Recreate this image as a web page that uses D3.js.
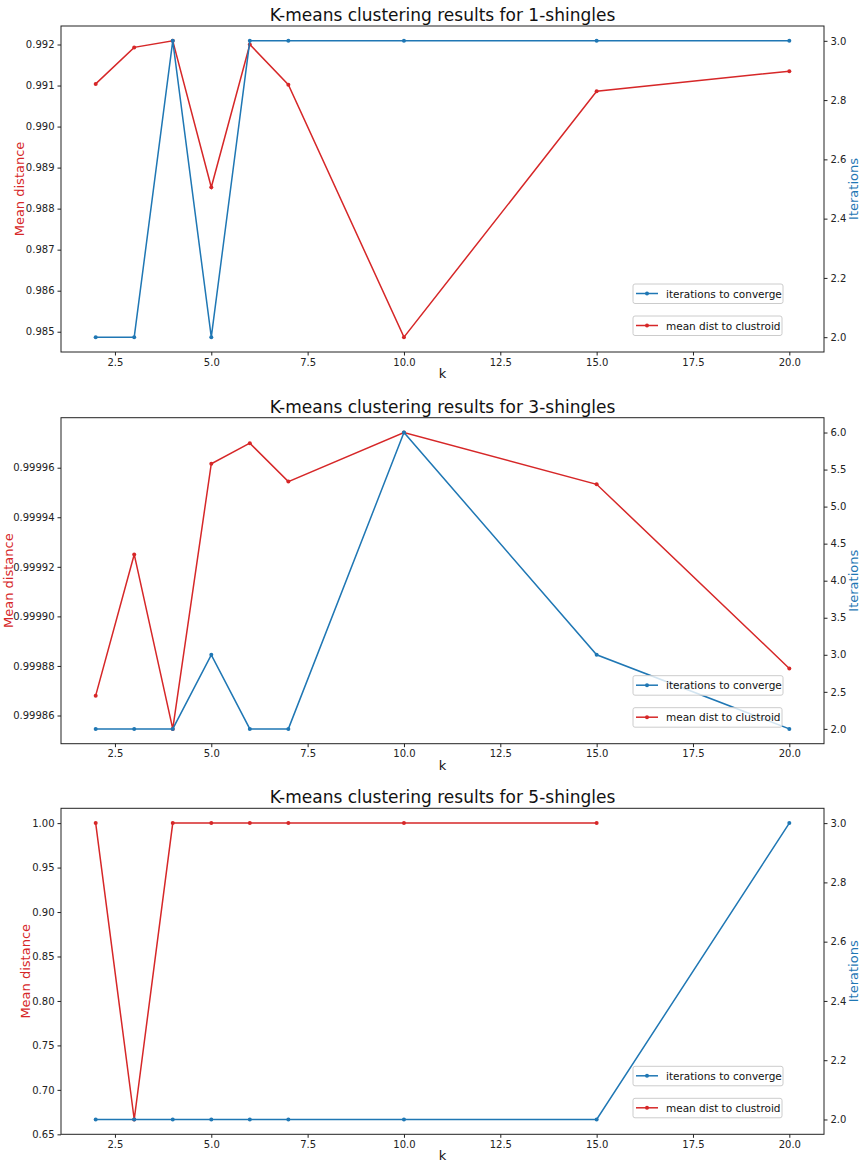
<!DOCTYPE html>
<html>
<head>
<meta charset="utf-8">
<script src="https://cdn.jsdelivr.net/npm/d3@7"></script>
<style>
  body { margin: 0; background: #fff; }
  svg text { font-family: "DejaVu Sans", sans-serif; }
</style>
</head>
<body>
<div id="zone"></div>
<script>
(function() {
  "use strict";

  // valeurs de k (axe x commun)
  var kValues = [2, 3, 4, 5, 6, 7, 10, 15, 20];

  // titres des trois graphiques
  var shingleTitles = ["K-means clustering results for 1-shingles",
                       "K-means clustering results for 3-shingles",
                       "K-means clustering results for 5-shingles"];

  // distance moyenne au clustroid (axe gauche)
  var meanDist1 = [0.99104, 0.99193, 0.99209, 0.98852, 0.99200, 0.99102, 0.984867, 0.99086, 0.99135];
  var meanDist3 = [0.999868, 0.999925, 0.9998546, 0.9999616, 0.9999699, 0.9999544, 0.9999742, 0.9999533, 0.999879];
  var meanDist5 = [1.0, 0.6667, 1.0, 1.0, 1.0, 1.0, 1.0, 1.0, null];

  // itérations pour converger (axe droit)
  var iter1 = [2, 2, 3, 2, 3, 3, 3, 3, 3];
  var iter3 = [2, 2, 2, 3, 2, 2, 6, 3, 2];
  var iter5 = [2, 2, 2, 2, 2, 2, 2, 2, 3];

  // graduations
  var xTicks = [2.5, 5.0, 7.5, 10.0, 12.5, 15.0, 17.5, 20.0];
  var leftTicks1 = [0.985, 0.986, 0.987, 0.988, 0.989, 0.990, 0.991, 0.992];
  var leftTicks3 = [0.99986, 0.99988, 0.99990, 0.99992, 0.99994, 0.99996];
  var leftTicks5 = [0.65, 0.70, 0.75, 0.80, 0.85, 0.90, 0.95, 1.00];
  var rightTicks1 = [2.0, 2.2, 2.4, 2.6, 2.8, 3.0];
  var rightTicks3 = [2.0, 2.5, 3.0, 3.5, 4.0, 4.5, 5.0, 5.5, 6.0];
  var rightTicks5 = [2.0, 2.2, 2.4, 2.6, 2.8, 3.0];

  var legendLabels = ["iterations to converge", "mean dist to clustroid"];

  var panels = [
    { title: shingleTitles[0], dist: meanDist1, iter: iter1, lt: leftTicks1, lf: ".3f", rt: rightTicks1, top: 26, ylabX: 24 },
    { title: shingleTitles[1], dist: meanDist3, iter: iter3, lt: leftTicks3, lf: ".5f", rt: rightTicks3, top: 417.7, ylabX: 13 },
    { title: shingleTitles[2], dist: meanDist5, iter: iter5, lt: leftTicks5, lf: ".2f", rt: rightTicks5, top: 808.3, ylabX: 30 }
  ];

  var red = "#d62728", blue = "#1f77b4";
  var W = 859, H = 1162;
  var left = 61, right = 824, plotH = 326;

  var svg = d3.select("#zone").append("svg").attr("width", W).attr("height", H);

  // domaine avec marge de 5% comme matplotlib
  function padded(vals) {
    var ext = d3.extent(vals.filter(function(v) { return v != null; }));
    var m = (ext[1] - ext[0]) * 0.05;
    return [ext[0] - m, ext[1] + m];
  }

  var x = d3.scaleLinear().domain(padded(kValues)).range([left, right]);

  panels.forEach(function(p) {
    var top = p.top, bottom = top + plotH;
    var g = svg.append("g");

    var yL = d3.scaleLinear().domain(padded(p.dist)).range([bottom, top]);
    var yR = d3.scaleLinear().domain(padded(p.iter)).range([bottom, top]);

    // axes
    var ax = g.append("g").attr("transform", "translate(0," + bottom + ")")
      .call(d3.axisBottom(x).tickValues(xTicks).tickFormat(d3.format(".1f")).tickSizeOuter(0).tickSize(3.5));
    var ayL = g.append("g").attr("transform", "translate(" + left + ",0)")
      .call(d3.axisLeft(yL).tickValues(p.lt).tickFormat(d3.format(p.lf)).tickSizeOuter(0).tickSize(3.5));
    var ayR = g.append("g").attr("transform", "translate(" + right + ",0)")
      .call(d3.axisRight(yR).tickValues(p.rt).tickFormat(d3.format(".1f")).tickSizeOuter(0).tickSize(3.5));
    [ax, ayL, ayR].forEach(function(a) {
      a.select(".domain").remove();
      a.selectAll("text").attr("font-size", 10).attr("fill", "#222").attr("font-family", "DejaVu Sans, sans-serif");
      a.selectAll("line").attr("stroke", "#222");
    });

    // lignes de mesure
    var lineL = d3.line().defined(function(d) { return d[1] != null; })
      .x(function(d) { return x(d[0]); }).y(function(d) { return yL(d[1]); });
    var lineR = d3.line()
      .x(function(d) { return x(d[0]); }).y(function(d) { return yR(d[1]); });

    var distPts = kValues.map(function(k, i) { return [k, p.dist[i]]; });
    var iterPts = kValues.map(function(k, i) { return [k, p.iter[i]]; });

    g.append("path").datum(distPts).attr("d", lineL)
      .attr("fill", "none").attr("stroke", red).attr("stroke-width", 1.5);
    g.selectAll(".dotL").data(distPts.filter(function(d) { return d[1] != null; })).enter()
      .append("circle").attr("cx", function(d) { return x(d[0]); }).attr("cy", function(d) { return yL(d[1]); })
      .attr("r", 2).attr("fill", red);

    g.append("path").datum(iterPts).attr("d", lineR)
      .attr("fill", "none").attr("stroke", blue).attr("stroke-width", 1.5);
    g.selectAll(".dotR").data(iterPts).enter()
      .append("circle").attr("cx", function(d) { return x(d[0]); }).attr("cy", function(d) { return yR(d[1]); })
      .attr("r", 2).attr("fill", blue);

    // cadre
    g.append("rect").attr("x", left).attr("y", top).attr("width", right - left).attr("height", plotH)
      .attr("fill", "none").attr("stroke", "#222").attr("stroke-width", 1);

    // titre et étiquettes
    g.append("text").attr("x", (left + right) / 2).attr("y", top - 5)
      .attr("text-anchor", "middle").attr("font-size", 17).attr("fill", "#111").text(p.title);
    g.append("text").attr("x", (left + right) / 2).attr("y", bottom + 26)
      .attr("text-anchor", "middle").attr("font-size", 13).attr("fill", "#111").text("k");
    g.append("text").attr("transform", "translate(" + p.ylabX + "," + (top + plotH / 2) + ") rotate(-90)")
      .attr("text-anchor", "middle").attr("font-size", 13).attr("fill", red).text("Mean distance");
    g.append("text").attr("transform", "translate(" + 857.5 + "," + (top + plotH / 2) + ") rotate(-90)")
      .attr("text-anchor", "middle").attr("font-size", 13).attr("fill", blue).text("Iterations");

    // légendes (deux boîtes séparées)
    var legColors = [blue, red];
    var legTops = [bottom - 68, bottom - 36];
    legendLabels.forEach(function(lab, i) {
      var lg = g.append("g").attr("transform", "translate(633," + legTops[i] + ")");
      lg.append("rect").attr("width", i === 0 ? 150 : 149).attr("height", 19.5).attr("rx", 2)
        .attr("fill", "#fff").attr("fill-opacity", 0.8).attr("stroke", "#ccc").attr("stroke-width", 1);
      lg.append("line").attr("x1", 3).attr("x2", 25).attr("y1", 9.5).attr("y2", 9.5)
        .attr("stroke", legColors[i]).attr("stroke-width", 1.5);
      lg.append("circle").attr("cx", 14).attr("cy", 9.5).attr("r", 2).attr("fill", legColors[i]);
      lg.append("text").attr("x", 33).attr("y", 13.5).attr("font-size", 10.5).attr("fill", "#111").text(lab);
    });
  });

})();
</script>
</body>
</html>
